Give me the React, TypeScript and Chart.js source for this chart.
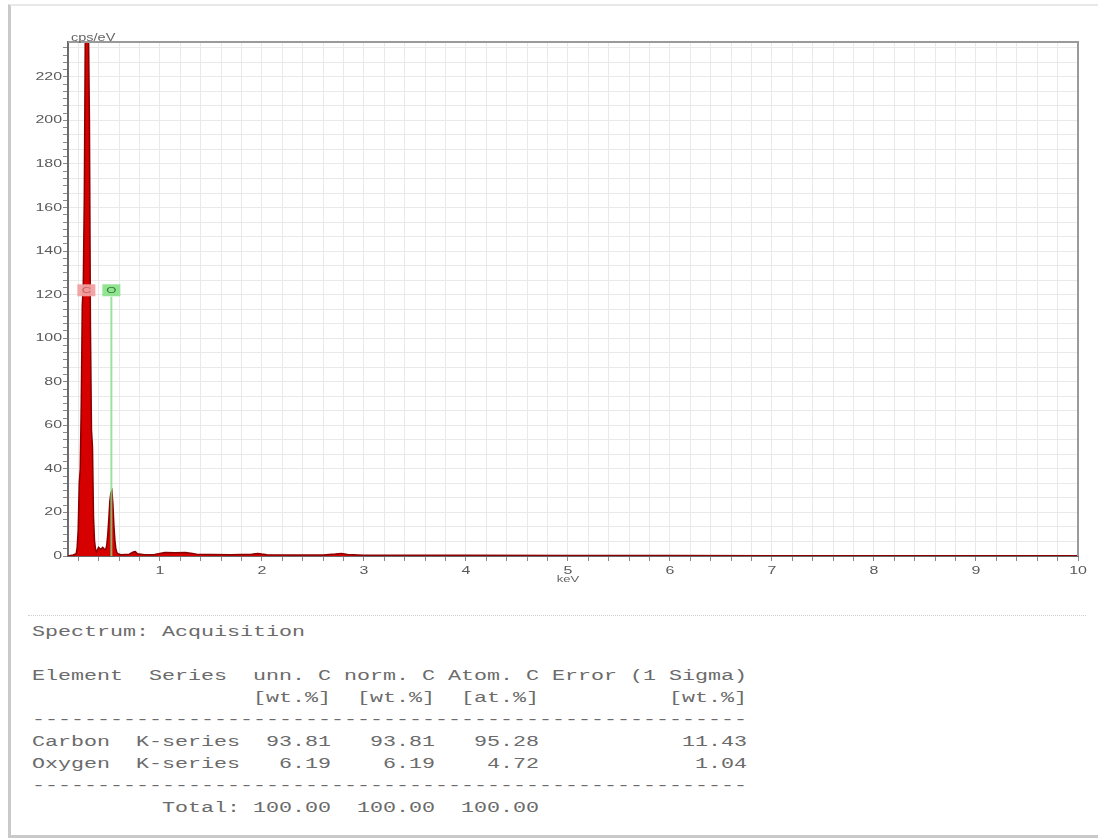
import React, { useEffect, useRef } from 'react';
import { Chart, registerables } from 'chart.js';

Chart.register(...registerables);

// ---- Spectrum data (keV, cps/eV) ----
const energies = [
  0.10, 0.15, 0.18, 0.19, 0.20, 0.21, 0.22, 0.23, 0.24, 0.25, 0.26, 0.27, 0.28, 0.29, 0.30,
  0.31, 0.32, 0.33, 0.34, 0.35, 0.36, 0.37, 0.38, 0.40, 0.42, 0.44, 0.46, 0.47, 0.48, 0.49,
  0.50, 0.51, 0.52, 0.53, 0.54, 0.55, 0.56, 0.57, 0.58, 0.59, 0.62, 0.70, 0.74, 0.76, 0.78,
  0.85, 0.95, 1.00, 1.05, 1.15, 1.25, 1.32, 1.36, 1.50, 1.70, 1.90, 1.96, 2.00, 2.05, 2.30,
  2.60, 2.72, 2.78, 2.84, 3.00, 4.00, 5.00, 6.00, 7.00, 8.00, 9.00, 10.00,
];
const counts = [
  0, 0.5, 1, 4, 12, 33, 40, 70, 115, 125, 165, 245, 260, 255, 245,
  200, 105, 58, 50, 18, 7, 3, 2, 4, 3, 4, 3, 3, 5, 10,
  17, 25, 29, 30, 24, 14, 7, 3, 1.5, 1, 0.6, 0.8, 1.8, 2, 1,
  0.6, 0.7, 1.2, 1.6, 1.5, 1.6, 1.2, 0.8, 0.7, 0.6, 0.8, 1.2, 0.9, 0.6, 0.5,
  0.5, 0.9, 1.2, 0.7, 0.4, 0.3, 0.2, 0.2, 0.1, 0.1, 0.1, 0.1,
];

// ---- Element markers ----
const markerElements = ['C', 'O'];
const markerEnergies = [0.28, 0.525];
const markerLevel = 122;

// ---- Axes ----
const xMin = 0.1;
const xMax = 10;
const yMin = 0;
const yMax = 236;
const xTickValues = [
  0.2, 0.4, 0.6, 0.8, 1.0, 1.2, 1.4, 1.6, 1.8, 2.0, 2.2, 2.4, 2.6, 2.8, 3.0, 3.2, 3.4, 3.6, 3.8, 4.0,
  4.2, 4.4, 4.6, 4.8, 5.0, 5.2, 5.4, 5.6, 5.8, 6.0, 6.2, 6.4, 6.6, 6.8, 7.0, 7.2, 7.4, 7.6, 7.8, 8.0,
  8.2, 8.4, 8.6, 8.8, 9.0, 9.2, 9.4, 9.6, 9.8, 10.0,
];
const xLabels = [1, 2, 3, 4, 5, 6, 7, 8, 9, 10];
const yLabels = [0, 20, 40, 60, 80, 100, 120, 140, 160, 180, 200, 220];
const yMinorPerMajor = 6;

// ---- Quantification table ----
const tableTitle = 'Spectrum: Acquisition';
const elementNames = ['Carbon', 'Oxygen'];
const seriesNames = ['K-series', 'K-series'];
const unnC = [93.81, 6.19];
const normC = [93.81, 6.19];
const atomC = [95.28, 4.72];
const errorSigma = [11.43, 1.04];
const totals = [100.0, 100.0, 100.0];

const FONT = "'Liberation Sans', 'DejaVu Sans', sans-serif";
const STRETCH = 1.45;

function stretchedText(ctx: any, text: string, x: number, y: number, align: 'left' | 'right' | 'center') {
  ctx.save();
  ctx.translate(x, y);
  ctx.scale(STRETCH, 1);
  ctx.textAlign = align;
  ctx.fillText(text, 0, 0);
  ctx.restore();
}

const overlayPlugin = {
  id: 'edsOverlay',
  beforeDatasetsDraw(chart: any) {
    const { ctx, scales } = chart;
    const x = scales.x;
    const y = scales.y;
    ctx.save();
    ctx.strokeStyle = 'rgba(240,160,160,0.9)';
    ctx.lineWidth = 2;
    const px = x.getPixelForValue(markerEnergies[0]);
    ctx.beginPath();
    ctx.moveTo(px, y.getPixelForValue(markerLevel - 3));
    ctx.lineTo(px, y.getPixelForValue(0));
    ctx.stroke();
    ctx.restore();
  },
  afterDatasetsDraw(chart: any) {
    const { ctx, scales, chartArea } = chart;
    const x = scales.x;
    const y = scales.y;
    ctx.save();
    // O line
    const ox = x.getPixelForValue(markerEnergies[1]);
    ctx.strokeStyle = 'rgba(130,220,130,0.8)';
    ctx.lineWidth = 2;
    ctx.beginPath();
    ctx.moveTo(ox, y.getPixelForValue(markerLevel - 3));
    ctx.lineTo(ox, y.getPixelForValue(0));
    ctx.stroke();

    // marker boxes
    markerElements.forEach((el, i) => {
      const cx = x.getPixelForValue(markerEnergies[i]);
      const cy = y.getPixelForValue(markerLevel);
      const w = 18;
      const h = 12;
      ctx.fillStyle = i === 0 ? 'rgba(242,160,160,0.95)' : 'rgba(140,225,140,0.95)';
      ctx.fillRect(cx - w / 2, cy - h / 2, w, h);
      ctx.fillStyle = i === 0 ? '#c46060' : '#2d7a2d';
      ctx.font = `9px ${FONT}`;
      ctx.textBaseline = 'middle';
      stretchedText(ctx, el, cx, cy + 0.5, 'center');
    });

    // top/right frame
    ctx.strokeStyle = '#9a9a9a';
    ctx.lineWidth = 2;
    ctx.beginPath();
    ctx.moveTo(chartArea.left, chartArea.top);
    ctx.lineTo(chartArea.right, chartArea.top);
    ctx.lineTo(chartArea.right, chartArea.bottom);
    ctx.stroke();

    // tick labels
    ctx.fillStyle = '#5a5a5a';
    ctx.font = `11px ${FONT}`;
    ctx.textBaseline = 'middle';
    yLabels.forEach((v) => {
      stretchedText(ctx, String(v), chartArea.left - 6, y.getPixelForValue(v), 'right');
    });
    xLabels.forEach((v) => {
      stretchedText(ctx, String(v), x.getPixelForValue(v), chartArea.bottom + 15, 'center');
    });

    // unit labels
    ctx.fillStyle = '#666';
    ctx.font = `10px ${FONT}`;
    ctx.textBaseline = 'bottom';
    stretchedText(ctx, 'cps/eV', chartArea.left + 3, chartArea.top + 1, 'left');
    ctx.textBaseline = 'middle';
    ctx.font = `9px ${FONT}`;
    stretchedText(ctx, 'keV', x.getPixelForValue(5), chartArea.bottom + 24, 'center');
    ctx.restore();
  },
};

function pad(s: string, n: number) {
  return s.padStart(n, ' ');
}

const tableLines: string[] = [
  tableTitle,
  '',
  'Element  Series  unn. C norm. C Atom. C Error (1 Sigma)',
  '                 [wt.%]  [wt.%]  [at.%]          [wt.%]',
  '-'.repeat(55),
  ...elementNames.map(
    (n, i) =>
      n.padEnd(8, ' ') +
      seriesNames[i] +
      pad(unnC[i].toFixed(2), 7) +
      pad(normC[i].toFixed(2), 8) +
      pad(atomC[i].toFixed(2), 8) +
      pad(errorSigma[i].toFixed(2), 16)
  ),
  '-'.repeat(55),
  '          Total:' + pad(totals[0].toFixed(2), 7) + pad(totals[1].toFixed(2), 8) + pad(totals[2].toFixed(2), 8),
];

export default function App() {
  const canvasRef = useRef<HTMLCanvasElement | null>(null);

  useEffect(() => {
    if (!canvasRef.current) return;
    const data = energies.map((e, i) => ({ x: e, y: counts[i] }));
    const chart = new Chart(canvasRef.current, {
      type: 'line',
      data: {
        datasets: [
          {
            data,
            borderColor: '#8a0000',
            borderWidth: 1.5,
            backgroundColor: '#d60000',
            fill: 'origin',
            pointRadius: 0,
            tension: 0,
          },
        ],
      },
      options: {
        animation: false,
        responsive: false,
        devicePixelRatio: 1,
        layout: { padding: { left: 0, right: 20, top: 42, bottom: 14 } },
        plugins: { legend: { display: false }, tooltip: { enabled: false } },
        scales: {
          x: {
            type: 'linear',
            min: xMin,
            max: xMax,
            afterBuildTicks: (axis: any) => {
              axis.ticks = xTickValues.map((v) => ({ value: v }));
            },
            afterFit: (axis: any) => {
              axis.height = 30;
            },
            ticks: {
              autoSkip: false,
              maxRotation: 0,
              font: { size: 10, family: FONT },
              callback: () => '',
            },
            grid: { color: '#e9e9e9', tickColor: '#8a8a8a', tickLength: 5, lineWidth: 1 },
            border: { display: true, color: '#6a6a6a', width: 2 },
          },
          y: {
            type: 'linear',
            min: yMin,
            max: yMax,
            afterBuildTicks: (axis: any) => {
              const step = 20 / yMinorPerMajor;
              const t: any[] = [];
              for (let i = 0; i * step <= yMax + 1e-9; i++) t.push({ value: i * step });
              axis.ticks = t;
            },
            afterFit: (axis: any) => {
              axis.width = 68;
            },
            ticks: {
              autoSkip: false,
              font: { size: 10, family: FONT },
              callback: () => '',
            },
            grid: {
              color: (ctx: any) => (ctx.index % 2 === 0 ? '#e9e9e9' : 'rgba(0,0,0,0)'),
              tickColor: '#8a8a8a',
              tickLength: 5,
              lineWidth: 1,
            },
            border: { display: true, color: '#6a6a6a', width: 2 },
          },
        },
      },
      plugins: [overlayPlugin],
    } as any);
    return () => chart.destroy();
  }, []);

  const scale = 13 / (14.5 * 0.6);

  return (
    <div style={{ position: 'absolute', left: 0, top: 0, width: 1098, height: 839, background: '#fff', overflow: 'hidden' }}>
      <div
        style={{
          position: 'absolute',
          left: 8,
          top: 4,
          width: 1100,
          height: 829,
          borderLeft: '3px solid #c9c9c9',
          borderTop: '2px solid #e8e8e8',
          borderBottom: '3px solid #c9c9c9',
        }}
      />
      <canvas
        ref={canvasRef}
        width={1098}
        height={600}
        style={{ position: 'absolute', left: 0, top: 0, width: 1098, height: 600, display: 'block' }}
      />
      <div
        style={{
          position: 'absolute',
          left: 28,
          top: 615,
          width: 1058,
          borderTop: '1px dotted #d0d0d0',
        }}
      />
      <pre
        style={{
          position: 'absolute',
          left: 32,
          top: 621,
          margin: 0,
          fontFamily: "'Liberation Mono', 'DejaVu Sans Mono', monospace",
          fontSize: '14.5px',
          lineHeight: '22px',
          color: '#6b6b6b',
          transform: `scaleX(${scale})`,
          transformOrigin: 'left top',
          whiteSpace: 'pre',
        }}
      >
        {tableLines.join('\n')}
      </pre>
    </div>
  );
}
